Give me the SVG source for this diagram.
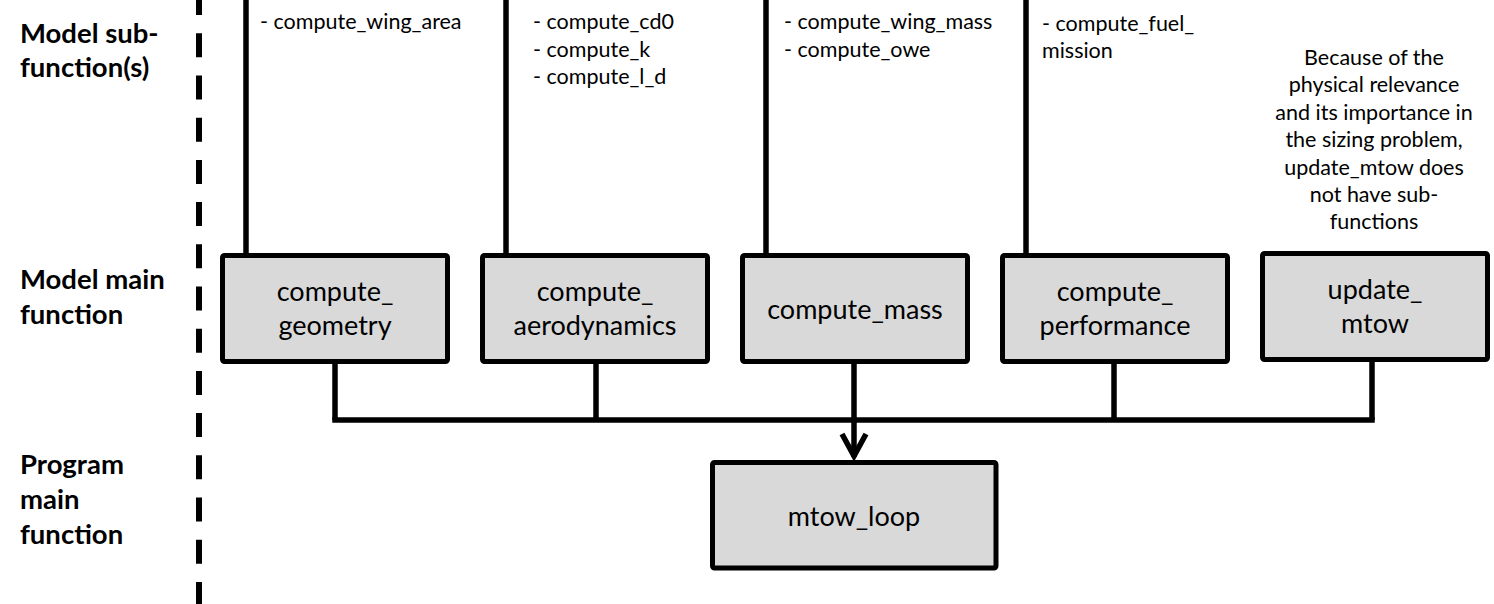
<svg xmlns="http://www.w3.org/2000/svg" width="1494" height="604" viewBox="0 0 1494 604">
  <style>
    .box { fill: #d9d9d9; stroke: #000; stroke-width: 5; }
    .lbl { font-family: Lato, "Liberation Sans", sans-serif; font-weight: bold; font-size: 27.5px; fill: #000; }
    .btxt { font-family: Lato, "Liberation Sans", sans-serif; font-size: 27px; fill: #000; text-anchor: middle; }
    .sub { font-family: Lato, "Liberation Sans", sans-serif; font-size: 21.5px; fill: #000; }
    .note { font-family: Lato, "Liberation Sans", sans-serif; font-size: 21.5px; fill: #000; text-anchor: middle; }
    .ln { fill: none; stroke: #000; stroke-width: 5.5; }
  </style>
  <defs>
    <marker id="arr" viewBox="0 0 30 30" refX="27" refY="15" markerWidth="30" markerHeight="30" markerUnits="userSpaceOnUse" orient="auto">
      <path d="M4,3 L26,15 L4,27" fill="none" stroke="#000" stroke-width="5.5" stroke-linejoin="miter"/>
    </marker>
  </defs>
  <rect width="1494" height="604" fill="#fff"/>

  <g id="row-labels">
    <text class="lbl" x="20" y="43">Model sub-</text>
    <text class="lbl" x="20" y="77">function(s)</text>
    <text class="lbl" x="20" y="289">Model main</text>
    <text class="lbl" x="20" y="324">function</text>
    <text class="lbl" x="20" y="474">Program</text>
    <text class="lbl" x="20" y="509">main</text>
    <text class="lbl" x="20" y="544">function</text>
  </g>

  <line id="separator" x1="199" y1="0" x2="199" y2="604" stroke="#000" stroke-width="6" stroke-dasharray="24 18.2" stroke-dashoffset="8.9"/>

  <g id="connectors">
    <line class="ln" x1="246" y1="0" x2="246" y2="256"/>
    <line class="ln" x1="506" y1="0" x2="506" y2="256"/>
    <line class="ln" x1="766" y1="0" x2="766" y2="256"/>
    <line class="ln" x1="1026" y1="0" x2="1026" y2="256"/>
    <line class="ln" x1="335" y1="361" x2="335" y2="420"/>
    <line class="ln" x1="596" y1="361" x2="596" y2="420"/>
    <line class="ln" x1="1114" y1="361" x2="1114" y2="420"/>
    <line class="ln" x1="1372" y1="359" x2="1372" y2="420"/>
    <polyline class="ln" points="332.25,420 1374.75,420"/>
    <line class="ln" x1="854" y1="361" x2="854" y2="457" marker-end="url(#arr)"/>
  </g>

  <g id="subfunctions">
    <text class="sub" x="260" y="29">- compute_wing_area</text>
    <text class="sub" x="533" y="29">- compute_cd0</text>
    <text class="sub" x="533" y="57">- compute_k</text>
    <text class="sub" x="533" y="84">- compute_l_d</text>
    <text class="sub" x="784" y="29">- compute_wing_mass</text>
    <text class="sub" x="784" y="57">- compute_owe</text>
    <text class="sub" x="1042" y="31">- compute_fuel_</text>
    <text class="sub" x="1042" y="58">mission</text>
    <text class="note" x="1374" y="65">Because of the</text>
    <text class="note" x="1374" y="92.4">physical relevance</text>
    <text class="note" x="1374" y="119.8">and its importance in</text>
    <text class="note" x="1374" y="147.2">the sizing problem,</text>
    <text class="note" x="1374" y="174.6">update_mtow does</text>
    <text class="note" x="1374" y="202">not have sub-</text>
    <text class="note" x="1374" y="229.4">functions</text>
  </g>

  <g id="compute_geometry">
    <rect class="box" x="222.5" y="255.5" width="225" height="106" rx="2"/>
    <text class="btxt" x="335" y="301">compute_</text>
    <text class="btxt" x="335" y="335">geometry</text>
  </g>
  <g id="compute_aerodynamics">
    <rect class="box" x="482.5" y="255.5" width="225" height="106" rx="2"/>
    <text class="btxt" x="595" y="301">compute_</text>
    <text class="btxt" x="595" y="335">aerodynamics</text>
  </g>
  <g id="compute_mass">
    <rect class="box" x="742.5" y="255.5" width="225" height="106" rx="2"/>
    <text class="btxt" x="855" y="319">compute_mass</text>
  </g>
  <g id="compute_performance">
    <rect class="box" x="1002.5" y="255.5" width="225" height="106" rx="2"/>
    <text class="btxt" x="1115" y="301">compute_</text>
    <text class="btxt" x="1115" y="335">performance</text>
  </g>
  <g id="update_mtow">
    <rect class="box" x="1262.5" y="253.5" width="225" height="106" rx="2"/>
    <text class="btxt" x="1375" y="299">update_</text>
    <text class="btxt" x="1375" y="333">mtow</text>
  </g>
  <g id="mtow_loop">
    <rect class="box" x="712.5" y="462.5" width="283.5" height="105.5" rx="2"/>
    <text class="btxt" x="854" y="526">mtow_loop</text>
  </g>
</svg>
